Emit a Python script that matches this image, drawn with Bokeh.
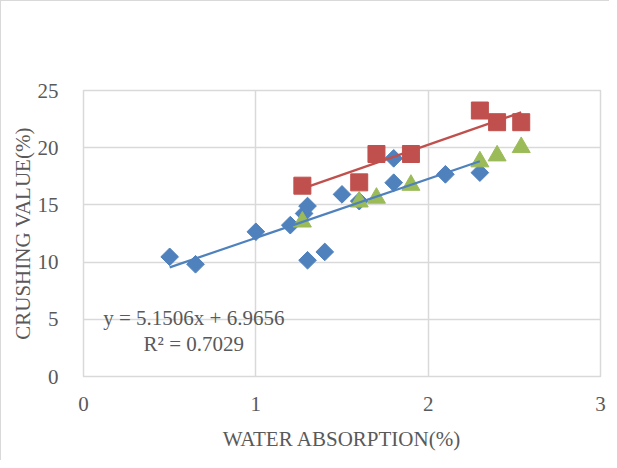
import numpy as np
from bokeh.plotting import figure
from bokeh.models import Label, FixedTicker, Range1d
from bokeh.embed import file_html
from bokeh.resources import INLINE

# ---- data ----
blue_x = [0.50, 0.65, 1.00, 1.20, 1.28, 1.30, 1.30, 1.40, 1.50, 1.60, 1.80, 1.80, 2.10, 2.30]
blue_y = [10.46, 9.81, 12.65, 13.23, 14.25, 14.90, 10.16, 10.89, 15.92, 15.33, 19.07, 16.94, 17.67, 17.82]

red_x = [1.27, 1.60, 1.70, 1.90, 2.30, 2.40, 2.54]
red_y = [16.68, 16.97, 19.45, 19.45, 23.25, 22.23, 22.23]

green_x = [1.27, 1.60, 1.70, 1.90, 2.30, 2.40, 2.54]
green_y = [13.52, 15.27, 15.60, 16.73, 18.78, 19.30, 20.03]

blue_slope = 5.1506
blue_intercept = 6.9656
eq_lines = ["y = 5.1506x + 6.9656", "R\u00b2 = 0.7029"]

x_ticks = [0, 1, 2, 3]
y_ticks = [0, 5, 10, 15, 20, 25]
x_title = "WATER ABSORPTION(%)"
y_title = "CRUSHING VALUE(%)"

# ---- styling ----
FONT = "Liberation Serif"
TXT = "#595959"
GRID = "#d9d9d9"
BLUE = "#4F81BD"
RED = "#C0504D"
GREEN = "#9BBB59"

p = figure(frame_width=517, frame_height=286, output_backend="svg", toolbar_location=None,
           x_range=Range1d(0, 3), y_range=Range1d(0, 25),
           min_border_left=82, min_border_right=9, min_border_top=89, min_border_bottom=84)
p.styles = {"border-left": "1px solid #d9d9d9", "border-top": "1px solid #d9d9d9"}

p.outline_line_color = GRID
p.outline_line_width = 1.5
p.background_fill_color = "white"
p.border_fill_color = "white"

for ax in (p.xaxis, p.yaxis):
    ax.axis_line_color = None
    ax.major_tick_line_color = None
    ax.minor_tick_line_color = None
    ax.major_label_text_font = FONT
    ax.major_label_text_font_size = "21px"
    ax.major_label_text_color = TXT
    ax.axis_label_text_font = FONT
    ax.axis_label_text_font_size = "21px"
    ax.axis_label_text_color = TXT
    ax.axis_label_text_font_style = "normal"

p.xaxis.ticker = FixedTicker(ticks=x_ticks)
p.yaxis.ticker = FixedTicker(ticks=y_ticks)
p.xaxis.axis_label = x_title
p.yaxis.axis_label = y_title
p.xaxis.major_label_standoff = 14
p.yaxis.major_label_standoff = 19
p.xaxis.axis_label_standoff = 13
p.yaxis.axis_label_standoff = 0

p.xgrid.grid_line_color = GRID
p.ygrid.grid_line_color = GRID
p.xgrid.grid_line_width = 1.5
p.ygrid.grid_line_width = 1.5

# markers
p.scatter(blue_x, blue_y, marker="square", angle=np.pi / 4, size=12.5,
          fill_color=BLUE, line_color=BLUE)
p.scatter(red_x, red_y, marker="square", size=17, fill_color=RED, line_color=RED)
p.scatter(green_x, green_y, marker="triangle", size=18, fill_color=GREEN, line_color=GREEN)

# trendlines
bx = np.array([min(blue_x), max(blue_x)])
p.line(bx, blue_slope * bx + blue_intercept, line_color=BLUE, line_width=2.25)
rs, ri = np.polyfit(red_x, red_y, 1)
rx = np.array([min(red_x), max(red_x)])
p.line(rx, rs * rx + ri, line_color=RED, line_width=2.25)

# equation label
p.add_layout(Label(x=0.64, y=5.07, text=eq_lines[0], text_align="center", text_baseline="middle",
                   text_font=FONT, text_font_size="21px", text_color=TXT))
p.add_layout(Label(x=0.64, y=2.88, text=eq_lines[1], text_align="center", text_baseline="middle",
                   text_font=FONT, text_font_size="21px", text_color=TXT))

open("out.html", "w").write(file_html(p, INLINE))
